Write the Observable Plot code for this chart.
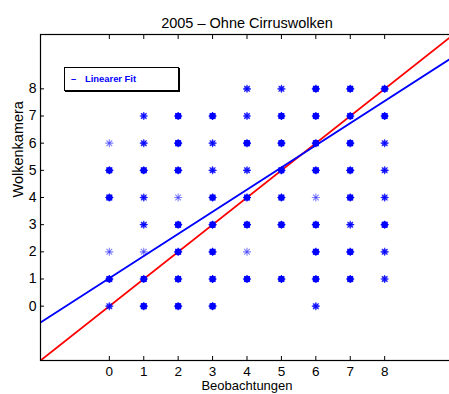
<!DOCTYPE html>
<html>
<head>
<meta charset="utf-8">
<script src="https://cdn.jsdelivr.net/npm/d3@7"></script>
<script src="https://cdn.jsdelivr.net/npm/@observablehq/plot@0.6"></script>
<style>
  html, body { margin: 0; padding: 0; background: #fff; overflow: hidden; }
  #chart { position: relative; width: 449px; height: 394px; font-family: "Liberation Sans", Arial, sans-serif; }
  #legend {
    position: absolute; left: 64px; top: 67px; width: 113px; height: 22px;
    border: 1.3px solid #000; box-shadow: 1px 1px 0 #000; background: #fff;
    font: bold 9.4px "Liberation Sans", Arial, sans-serif; color: #0000ff;
  }
  #legend .dash { position: absolute; left: 6px; top: 5px; }
  #legend .lbl { position: absolute; left: 20px; top: 5px; }
</style>
</head>
<body>
<div id="chart"></div>
<script>
// Cloud cover in octas, 2005, cirrus excluded:
// ground observer (Beobachtungen) vs. cloud camera (Wolkenkamera)
const title = "2005 – Ohne Cirruswolken";
const xLabel = "Beobachtungen";
const yLabel = "Wolkenkamera";
const xTicks = [0, 1, 2, 3, 4, 5, 6, 7, 8];
const yTicks = [0, 1, 2, 3, 4, 5, 6, 7, 8];

// occupied (observer, camera) pairs; weight = how densely the cell is populated (1 sparse … 3 dense)
const obsBeob = [
  4, 5, 6, 7, 8,
  1, 2, 3, 4, 5, 6, 7, 8,
  0, 1, 2, 3, 4, 5, 6, 7, 8,
  0, 1, 2, 3, 4, 5, 6, 7, 8,
  0, 1, 2, 3, 4, 5, 6, 7, 8,
  1, 2, 3, 4, 5, 6, 7, 8,
  0, 1, 2, 3, 4, 6, 7, 8,
  0, 1, 2, 3, 4, 5, 6, 7, 8,
  0, 1, 2, 3, 6
];
const obsKamera = [
  8, 8, 8, 8, 8,
  7, 7, 7, 7, 7, 7, 7, 7,
  6, 6, 6, 6, 6, 6, 6, 6, 6,
  5, 5, 5, 5, 5, 5, 5, 5, 5,
  4, 4, 4, 4, 4, 4, 4, 4, 4,
  3, 3, 3, 3, 3, 3, 3, 3,
  2, 2, 2, 2, 2, 2, 2, 2,
  1, 1, 1, 1, 1, 1, 1, 1, 1,
  0, 0, 0, 0, 0
];
const obsWeight = [
  2, 2, 3, 3, 3,
  2, 3, 3, 2, 3, 3, 3, 3,
  1, 2, 3, 2, 3, 3, 3, 3, 2,
  3, 3, 3, 2, 2, 3, 3, 3, 2,
  3, 2, 1, 3, 3, 3, 1, 3, 2,
  2, 3, 3, 3, 3, 3, 2, 3,
  1, 1, 3, 3, 1, 3, 3, 2,
  3, 3, 3, 3, 3, 3, 3, 3, 2,
  2, 3, 3, 3, 2
];

// least-squares fit of camera on observer, and the 1:1 reference line
const fitSlope = 0.815;
const fitIntercept = 1.03;
const lineSpan = [-2, 10];

const cells = obsBeob.map((b, i) => ({b, k: obsKamera[i], w: obsWeight[i]}));
const identity = lineSpan.map(x => ({x, y: x}));
const fit = lineSpan.map(x => ({x, y: fitIntercept + fitSlope * x}));

const blue = "#0000ff";
const red = "#ff0000";
const starOpacity = w => [0, 0.5, 0.85, 1][w];
const coreOpacity = w => [0, 0, 0.55, 1][w];

const chart = Plot.plot({
  width: 449,
  height: 394,
  marginLeft: 40,
  marginRight: -4,
  marginTop: 34,
  marginBottom: 34,
  style: {fontFamily: "Liberation Sans, Arial, sans-serif", fontSize: "14.5px", color: "#000", background: "#fff"},
  x: {domain: [-2, 10], label: null},
  y: {domain: [-2, 10], label: null},
  marks: [
    Plot.line(identity, {x: "x", y: "y", stroke: red, strokeWidth: 1.8, clip: true}),
    Plot.line(fit, {x: "x", y: "y", stroke: blue, strokeWidth: 1.8, clip: true}),
    Plot.dot(cells, {x: "b", y: "k", symbol: "plus", r: 2.7, stroke: blue, strokeWidth: 1.1, strokeOpacity: d => starOpacity(d.w)}),
    Plot.dot(cells, {x: "b", y: "k", symbol: "times", r: 2.7, stroke: blue, strokeWidth: 1.1, strokeOpacity: d => starOpacity(d.w)}),
    Plot.dot(cells, {x: "b", y: "k", r: d => d.w === 3 ? 2.5 : 2.0, fill: blue, stroke: "none", fillOpacity: d => coreOpacity(d.w)}),
    Plot.frame({stroke: "#000", strokeWidth: 1.2}),
    Plot.axisX(xTicks, {anchor: "bottom", tickSize: -4, tickPadding: 9.5, fontSize: 13.5, stroke: "#000", strokeWidth: 1}),
    Plot.axisX(xTicks, {anchor: "top", tickSize: -4, text: null, stroke: "#000", strokeWidth: 1}),
    Plot.axisY(yTicks, {anchor: "left", tickSize: -4, tickPadding: 8, fontSize: 14, stroke: "#000", strokeWidth: 1}),
    Plot.text([title], {frameAnchor: "top", dy: -17, fontSize: 14.5, fill: "#000"}),
    Plot.text([xLabel], {frameAnchor: "bottom", dy: 29.5, fontSize: 13, fill: "#000"}),
    Plot.text([yLabel], {frameAnchor: "left", dx: -22, rotate: -90, fontSize: 14.5, fill: "#000"})
  ]
});

const host = document.getElementById("chart");
host.appendChild(chart);
const legend = document.createElement("div");
legend.id = "legend";
legend.innerHTML = '<span class="dash">–</span><span class="lbl">Linearer Fit</span>';
host.appendChild(legend);
</script>
</body>
</html>
